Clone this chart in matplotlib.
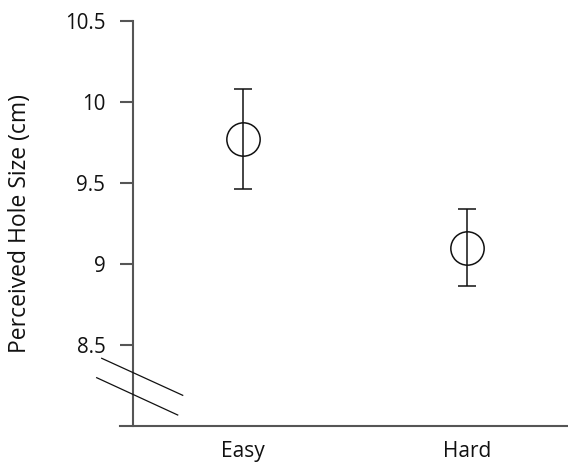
import matplotlib
matplotlib.use("Agg")
import matplotlib.pyplot as plt
from matplotlib.lines import Line2D

# ── Dados ─────────────────────────────────────────────────────────────────────
conditions = ["Easy", "Hard"]
means = [9.77, 9.10]
errors = [0.31, 0.235]
yticks = [8.5, 9, 9.5, 10, 10.5]
ytick_labels = ["8.5", "9", "9.5", "10", "10.5"]

AXIS = "#555555"
INK = "#111111"
W, H = 568, 463

plt.rcParams["font.family"] = ["Open Sans", "DejaVu Sans"]

fig = plt.figure(figsize=(W / 100, H / 100), dpi=100, facecolor="white")
# axes: y axis at x=133 px, top 20.7 px, bottom 425.7 px
ax = fig.add_axes([133 / W, (H - 425.7) / H, (W - 133) / W, 405 / H])

x = list(range(len(conditions)))
ax.errorbar(x, means, yerr=errors, fmt="o", color=INK, ecolor=INK,
            markersize=24, markerfacecolor="none", markeredgewidth=1.1,
            elinewidth=1.1, capsize=6.5, capthick=1.1)

ax.set_xlim(-0.491, 1.451)
ax.set_ylim(8.0, 10.5)
ax.set_yticks(yticks)
ax.set_yticklabels(ytick_labels)
ax.set_xticks(x)
ax.set_xticklabels(conditions)

for s in ["top", "right", "bottom"]:
    ax.spines[s].set_visible(False)
ax.spines["left"].set_color(AXIS)
ax.spines["left"].set_linewidth(1.5)
ax.tick_params(axis="y", direction="out", length=9.4, width=1.5, color=AXIS,
               labelsize=14.8, pad=10.5, labelcolor=INK)
ax.tick_params(axis="x", length=0, labelsize=15, pad=11, labelcolor=INK)

ax.set_ylabel("Perceived Hole Size (cm)", fontsize=16.5, color=INK)
ax.yaxis.set_label_coords(-0.232, 0.5)

# linha do eixo x, começando na ponta dos ticks do eixo y
fig.add_artist(Line2D([120 / W, 1.0], [(H - 425.7) / H] * 2,
                      color=AXIS, linewidth=1.5))

# marcas de quebra do eixo
for (x0, y0, x1, y1) in [(101.7, 358.3, 182.7, 395.3), (96.7, 377.7, 177.7, 415.0)]:
    fig.add_artist(Line2D([x0 / W, x1 / W], [(H - y0) / H, (H - y1) / H],
                          color=INK, linewidth=0.9))

fig.savefig("out.png", dpi=100, facecolor="white")
plt.close(fig)
